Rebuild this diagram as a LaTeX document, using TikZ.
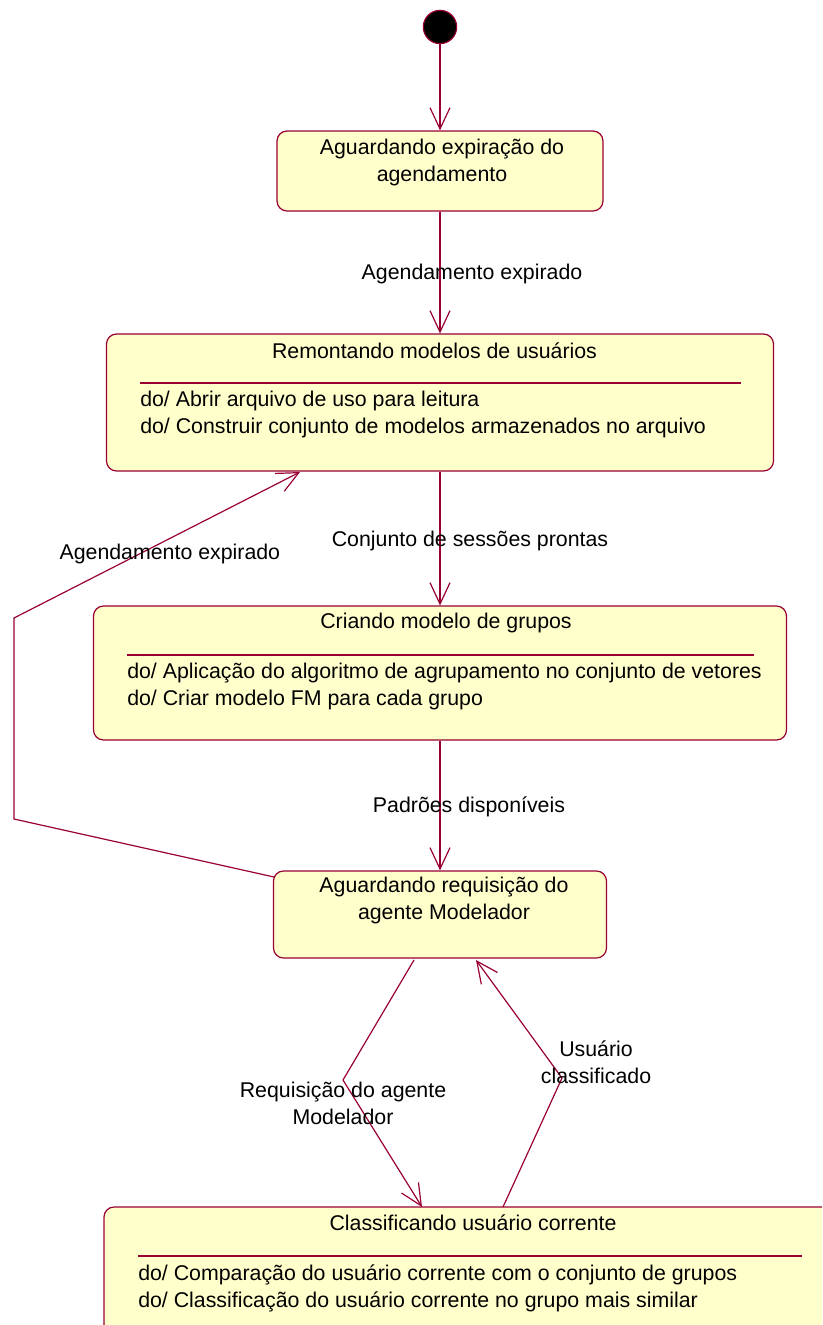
\documentclass[tikz,border=0pt]{standalone}
\usepackage{fontspec}
\setmainfont{Liberation Sans}
\usepackage{tikz}
\usetikzlibrary{arrows.meta}
\definecolor{umlline}{RGB}{153,0,51}
\definecolor{umlfill}{RGB}{255,255,204}

\begin{document}
\begin{tikzpicture}[x=0.75pt, y=-0.75pt,
	every node/.style={font=\fontsize{16}{20.25}\selectfont, inner sep=0pt},
	state/.style={draw=umlline, fill=umlfill, line width=0.9pt, rounded corners=7.5pt},
	trans/.style={draw=umlline, line width=0.9pt, -{Straight Barb[length=16pt,width=15pt]}},
	sep/.style={draw=umlline, line width=0.9pt}]
	\useasboundingbox (0,0) rectangle (822,1325);
	\clip (0,0) rectangle (822,1325);

	% Initial state
	\node (start) [circle, draw=umlline, fill=black, line width=0.9pt, minimum size=25pt] at (440,27) {};

	% Aguardando expiracao
	\node (waitsched) [state, minimum width=244.5pt, minimum height=60pt] at (440,171) {};
	\node [align=center] at (442,162.5) {Aguardando expiração do\\agendamento};

	% Remontando modelos
	\node (rebuild) [state, minimum width=500.25pt, minimum height=102.75pt] at (440,402.5) {};
	\node at (434.5,351) {Remontando modelos de usuários};
	\draw[sep] (140,383) -- (741,383);
	\node [anchor=west, align=left] at (140,414.5) {do/ Abrir arquivo de uso para leitura\\do/ Construir conjunto de modelos armazenados no arquivo};

	% Criando modelo de grupos
	\node (clustering) [state, minimum width=519.75pt, minimum height=100.5pt] at (440,673) {};
	\node at (446,623) {Criando modelo de grupos};
	\draw[sep] (127,655) -- (754,655);
	\node [anchor=west, align=left] at (127,686.5) {do/ Aplicação do algoritmo de agrupamento no conjunto de vetores\\do/ Criar modelo FM para cada grupo};

	% Aguardando requisicao
	\node (waitreq) [state, minimum width=249.75pt, minimum height=65.25pt] at (440,914.5) {};
	\node [align=center] at (444,900.5) {Aguardando requisição do\\agente Modelador};

	% Classificando usuario
	\node (classify) [state, minimum width=552pt, minimum height=105pt] at (472,1277) {};
	\node at (473,1223) {Classificando usuário corrente};
	\draw[sep] (138,1256) -- (802,1256);
	\node [anchor=west, align=left] at (138,1288.5) {do/ Comparação do usuário corrente com o conjunto de grupos\\do/ Classificação do usuário corrente no grupo mais similar};

	% transitions
	\draw[trans] (start) -- (waitsched);
	\draw[trans] (waitsched) -- node[midway, xshift=24pt, yshift=-0.75pt] {Agendamento expirado} (rebuild);
	\draw[trans] (rebuild) -- node[midway, xshift=22.5pt, yshift=-2pt] {Conjunto de sessões prontas} (clustering);
	\draw[trans] (clustering) -- node[midway, xshift=21.75pt, yshift=-1pt] {Padrões disponíveis} (waitreq);

	% loop back
	\coordinate (loopa) at (274,877);
	\coordinate (loopb) at (14,819);
	\coordinate (loopc) at (14,618);
	\coordinate (loopd) at (300,472);
	\draw[trans] (loopa) -- (loopb) -- (loopc) -- node[pos=0.545, yshift=-12pt] {Agendamento expirado} (loopd);

	% request / classified
	\coordinate (reqa) at (414,960);
	\coordinate (reqb) at (343,1080);
	\coordinate (reqc) at (422,1207);
	\draw[trans] (reqa) -- (reqb) node[yshift=-17.5pt, align=center] {Requisição do agente\\Modelador} -- (reqc);
	\coordinate (clsa) at (503,1207);
	\coordinate (clsb) at (562,1078);
	\coordinate (clsc) at (476,960);
	\draw[trans] (clsa) -- (clsb) node[xshift=25.5pt, yshift=11.5pt, align=center] {Usuário\\classificado} -- (clsc);
\end{tikzpicture}
\end{document}
